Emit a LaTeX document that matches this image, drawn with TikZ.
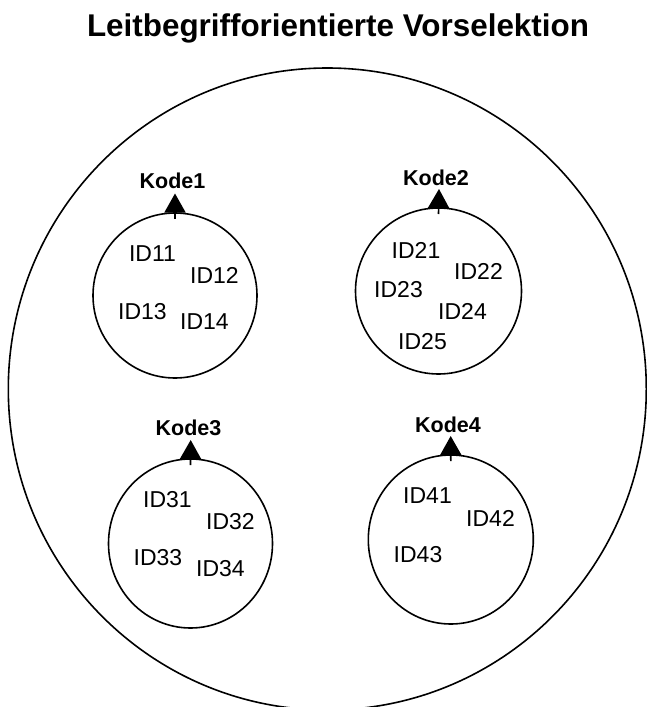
\documentclass[tikz,border=0pt]{standalone}
\usepackage{fontspec}
\setmainfont{Liberation Sans}
\usetikzlibrary{arrows.meta,shapes.geometric}
\begin{document}
\begin{tikzpicture}[x=1pt,y=-1pt,
  every node/.style={inner sep=0pt, outer sep=0pt},
  outline/.style={line width=1.6pt},
  group/.style={ellipse, draw, outline},
  titletext/.style={font=\bfseries\fontsize{31.4}{36}\selectfont, anchor=base},
  kodetext/.style={font=\bfseries\fontsize{21.5}{25}\selectfont},
  idtext/.style={font=\fontsize{23}{27}\selectfont},
  kodearrow/.style={outline, -{Triangle[length=19pt,width=21pt]}}]

\useasboundingbox (0,0) rectangle (647,707);
\clip (0,0) rectangle (647,707);

% title
\node[titletext] (title) at (338,36.7) {Leitbegrifforientierte Vorselektion};

% outer set
\node[group, minimum width=638pt, minimum height=642pt] (outer) at (327.3,389) {};

% group 1
\node[group, minimum width=164pt, minimum height=165pt] (g1) at (175,295.5) {};
\coordinate (t1) at (175,193.5);
\node[kodetext] (k1) at (172.5,180.5) {Kode1};
\draw[kodearrow] ([yshift=-6pt]g1.north) -- (t1);
\node[idtext] (id11) at (152.5,253.5) {ID11};
\node[idtext] (id12) at (214.5,275.5) {ID12};
\node[idtext] (id13) at (142.5,311.5) {ID13};
\node[idtext] (id14) at (204.5,322) {ID14};

% group 2
\node[group, minimum width=166pt, minimum height=166pt] (g2) at (438.5,291) {};
\coordinate (t2) at (439,189);
\node[kodetext] (k2) at (436,177.5) {Kode2};
\draw[kodearrow] ([yshift=-6pt]g2.north) -- (t2);
\node[idtext] (id21) at (416,250) {ID21};
\node[idtext] (id22) at (478.5,271.5) {ID22};
\node[idtext] (id23) at (398.5,289.5) {ID23};
\node[idtext] (id24) at (462.5,311.5) {ID24};
\node[idtext] (id25) at (422.5,341.5) {ID25};

% group 3
\node[group, minimum width=164pt, minimum height=169pt] (g3) at (190.5,543.5) {};
\coordinate (t3) at (190.7,440);
\node[kodetext] (k3) at (188.5,427.5) {Kode3};
\draw[kodearrow] ([yshift=-6pt]g3.north) -- (t3);
\node[idtext] (id31) at (167.5,500) {ID31};
\node[idtext] (id32) at (230.5,521.5) {ID32};
\node[idtext] (id33) at (158,557.5) {ID33};
\node[idtext] (id34) at (220.5,568.5) {ID34};

% group 4
\node[group, minimum width=165pt, minimum height=169pt] (g4) at (450.8,539.5) {};
\coordinate (t4) at (450.7,436);
\node[kodetext] (k4) at (448,424.5) {Kode4};
\draw[kodearrow] ([yshift=-6pt]g4.north) -- (t4);
\node[idtext] (id41) at (427.5,496) {ID41};
\node[idtext] (id42) at (490.5,518.5) {ID42};
\node[idtext] (id43) at (418,555) {ID43};

\end{tikzpicture}
\end{document}
